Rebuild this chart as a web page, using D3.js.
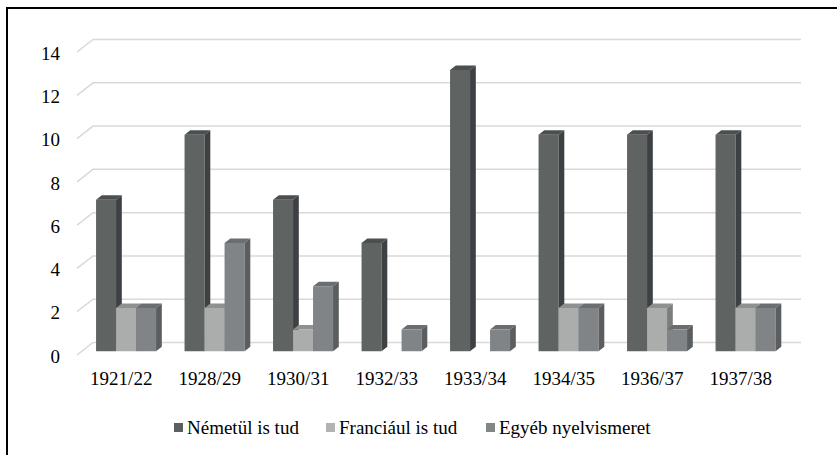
<!DOCTYPE html>
<html>
<head>
<meta charset="utf-8">
<script src="https://cdn.jsdelivr.net/npm/d3@7/dist/d3.min.js"></script>
<style>
  body { margin: 0; background: #fff; font-family: "Liberation Serif", serif; }
  svg text { font-family: "Liberation Serif", serif !important; }
</style>
</head>
<body>
<script>
// Data
var years = ["1921/22", "1928/29", "1930/31", "1932/33", "1933/34", "1934/35", "1936/37", "1937/38"];
var nemet = [7, 10, 7, 5, 13, 10, 10, 10];
var francia = [2, 2, 1, 0, 0, 2, 2, 2];
var egyeb = [2, 5, 3, 1, 1, 2, 1, 2];
var seriesNames = ["Németül is tud", "Franciául is tud", "Egyéb nyelvismeret"];
var yTicks = [0, 2, 4, 6, 8, 10, 12, 14];

var W = 837, H = 455;
// depth of the back wall and of the bars (3D look)
var wallDx = 16, wallDy = -12.5;
var barZ0 = 0.3, barZ1 = 0.66;

// colours per series: front, top, side
var colors = [
  {front: "#5f6462", top: "#4b4f50", side: "#3d4143", legend: "#5b5f60"},
  {front: "#aaadac", top: "#8e9192", side: "#7b7e7f", legend: "#b0b3b2"},
  {front: "#808486", top: "#6a6e70", side: "#5a5e60", legend: "#828687"}
];

var svg = d3.select("body").append("svg")
    .attr("width", W)
    .attr("height", H);

svg.append("rect").attr("width", W).attr("height", H).attr("fill", "#fff");

// frame (only top and left edges are inside the picture)
svg.append("rect")
    .attr("x", 7).attr("y", 8)
    .attr("width", W + 10).attr("height", H + 10)
    .attr("fill", "none")
    .attr("stroke", "#000")
    .attr("stroke-width", 2);

// scales on the front plane
var x = d3.scaleBand().domain(years).range([77, 785]).paddingInner(0.322).paddingOuter(0.161);
var x1 = d3.scaleBand().domain(d3.range(3)).range([0, x.bandwidth()]);
var y = d3.scaleLinear().domain([0, 14]).range([355, 52]);

// gridlines: slanted floor edge + back wall line
svg.append("g").selectAll("path")
    .data(yTicks)
    .enter().append("path")
      .attr("d", function(d) {
          var yy = y(d);
          return "M77," + yy + "L" + (77 + wallDx) + "," + (yy + wallDy) + "L801," + (yy + wallDy);
      })
      .attr("fill", "none")
      .attr("stroke", "#d9d9d9")
      .attr("stroke-width", 1.5);

// y tick labels
svg.append("g").selectAll("text")
    .data(yTicks)
    .enter().append("text")
      .attr("x", 60)
      .attr("y", function(d) { return y(d) + 1; })
      .attr("dy", "0.35em")
      .attr("text-anchor", "end")
      .attr("font-family", "Liberation Serif")
      .attr("font-size", 19)
      .text(function(d) { return d; });

// build bar list, left to right
var bars = [];
years.forEach(function(yr, i) {
    [nemet[i], francia[i], egyeb[i]].forEach(function(v, s) {
        if (v > 0) bars.push({year: yr, s: s, v: v});
    });
});

var fx = wallDx * barZ0, fy = wallDy * barZ0;
var dx = wallDx * (barZ1 - barZ0), dy = wallDy * (barZ1 - barZ0);

var g = svg.append("g").selectAll("g")
    .data(bars)
    .enter().append("g");

function pts(a) { return a.map(function(p) { return p[0] + "," + p[1]; }).join(" "); }

// front face
g.append("polygon")
    .attr("points", function(d) {
        var x0 = x(d.year) + x1(d.s) + fx, w = x1.bandwidth();
        var yt = y(d.v) + fy, yb = y(0) + fy;
        return pts([[x0, yt], [x0 + w, yt], [x0 + w, yb], [x0, yb]]);
    })
    .attr("fill", function(d) { return colors[d.s].front; });
// top face
g.append("polygon")
    .attr("points", function(d) {
        var x0 = x(d.year) + x1(d.s) + fx, w = x1.bandwidth();
        var yt = y(d.v) + fy;
        return pts([[x0, yt], [x0 + dx, yt + dy], [x0 + w + dx, yt + dy], [x0 + w, yt]]);
    })
    .attr("fill", function(d) { return colors[d.s].top; });
// right side face
g.append("polygon")
    .attr("points", function(d) {
        var x0 = x(d.year) + x1(d.s) + fx + x1.bandwidth();
        var yt = y(d.v) + fy, yb = y(0) + fy;
        return pts([[x0, yt], [x0 + dx, yt + dy], [x0 + dx, yb + dy], [x0, yb]]);
    })
    .attr("fill", function(d) { return colors[d.s].side; });

// category labels
svg.append("g").selectAll("text")
    .data(years)
    .enter().append("text")
      .attr("x", function(d) { return x(d) + x.bandwidth() / 2; })
      .attr("y", 385)
      .attr("text-anchor", "middle")
      .attr("font-family", "Liberation Serif")
      .attr("font-size", 19)
      .text(function(d) { return d; });

// legend
var legendX = [174, 326, 486];
var legend = svg.append("g").selectAll("g")
    .data(seriesNames)
    .enter().append("g")
      .attr("transform", function(d, i) { return "translate(" + legendX[i] + ",0)"; });
legend.append("rect")
    .attr("y", 423)
    .attr("width", 9)
    .attr("height", 9)
    .attr("fill", function(d, i) { return colors[i].legend; });
legend.append("text")
    .attr("x", 13)
    .attr("y", 434)
    .attr("font-family", "Liberation Serif")
    .attr("font-size", 19)
    .text(function(d) { return d; });
</script>
</body>
</html>
